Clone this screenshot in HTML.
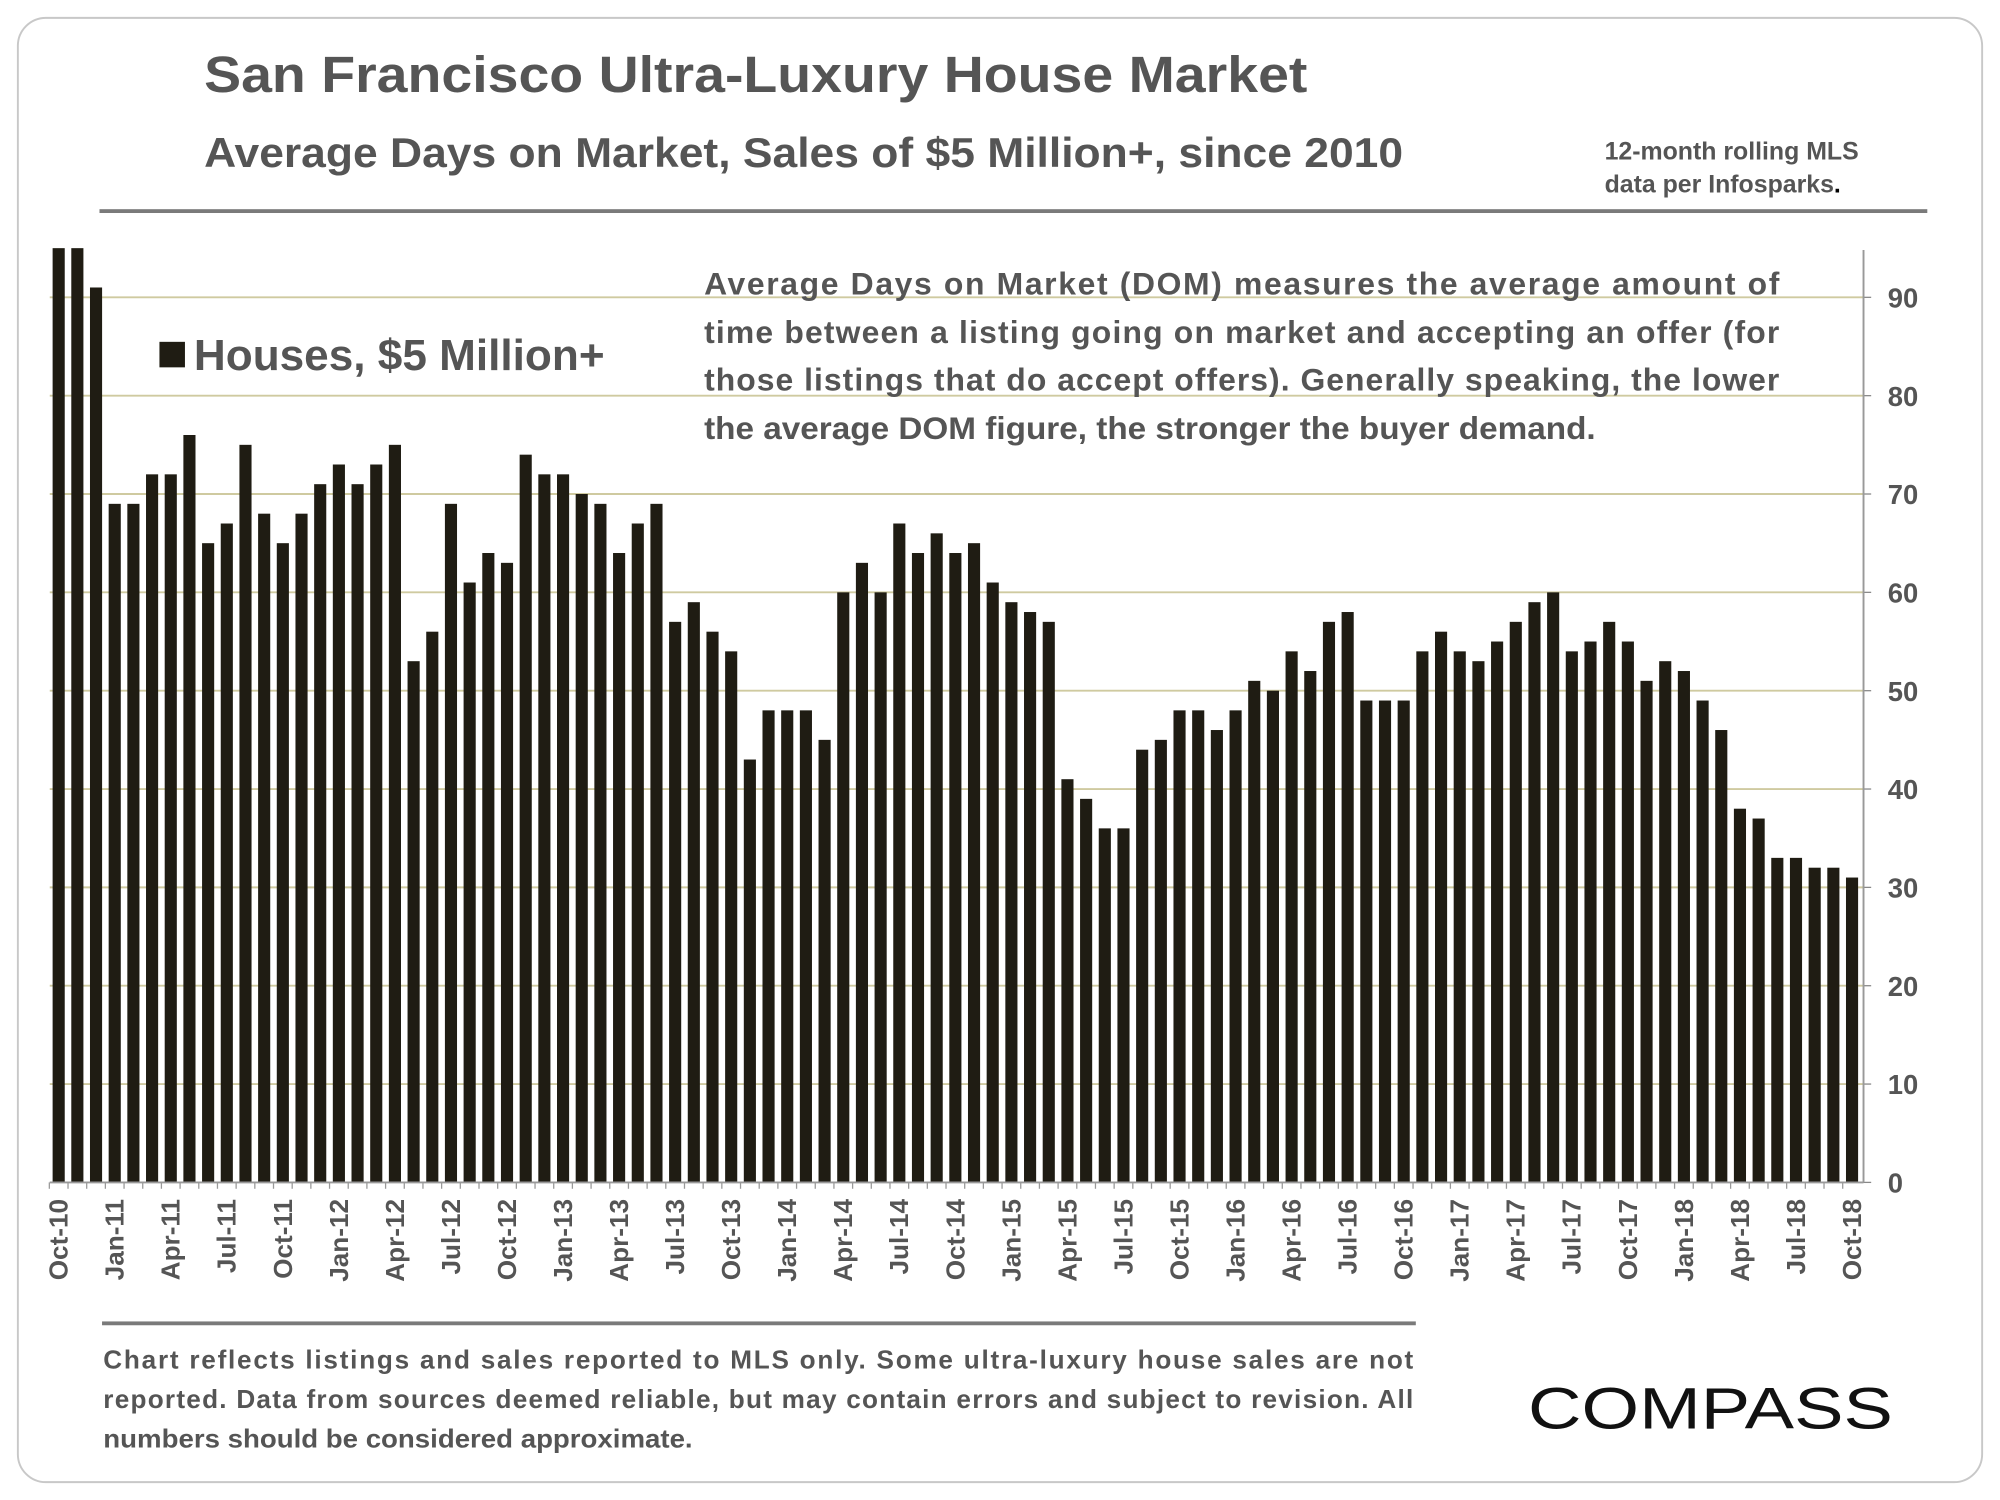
<!DOCTYPE html>
<html><head><meta charset="utf-8">
<style>
html,body{margin:0;padding:0;background:#fff;}
svg{display:block;font-family:"Liberation Sans",Arial,sans-serif;}
</style></head>
<body>
<svg id="chart" width="2000" height="1500" viewBox="0 0 1568 1176" xmlns="http://www.w3.org/2000/svg">
<rect x="14" y="14" width="1540" height="1148" rx="22" fill="#fff" stroke="#c8c8c8" stroke-width="1.5"/>
<text x="160" y="72" font-size="40" font-weight="bold" fill="#555" textLength="865" lengthAdjust="spacingAndGlyphs">San Francisco Ultra-Luxury House Market</text>
<text x="160" y="131" font-size="33" font-weight="bold" fill="#555" textLength="940" lengthAdjust="spacingAndGlyphs">Average Days on Market, Sales of $5 Million+, since 2010</text>
<text font-size="19.5" font-weight="bold" fill="#555"><tspan x="1258" y="125">12-month rolling MLS</tspan><tspan x="1258" y="151">data per Infosparks<tspan fill="#000">.</tspan></tspan></text>
<rect x="78" y="164" width="1433" height="3" fill="#7a7a7a"/>
<g id="grid"></g>
<g id="bars"></g>
<g id="axes"></g>
<rect x="125" y="268" width="20" height="20" fill="#1f1c13"/>
<text x="152" y="290" font-size="34" font-weight="bold" fill="#555" textLength="322" lengthAdjust="spacingAndGlyphs">Houses, $5 Million+</text>
<g font-size="25" font-weight="bold" fill="#555">
<text x="552" y="231" textLength="843" lengthAdjust="spacing">Average Days on Market (DOM) measures the average amount of</text>
<text x="552" y="269" textLength="843" lengthAdjust="spacing">time between a listing going on market and accepting an offer (for</text>
<text x="552" y="306" textLength="843" lengthAdjust="spacing">those listings that do accept offers).  Generally speaking, the lower</text>
<text x="552" y="344" textLength="699" lengthAdjust="spacingAndGlyphs">the average DOM figure, the stronger the buyer demand.</text>
</g>
<rect x="80" y="1036" width="1030" height="3" fill="#7a7a7a"/>
<g font-size="20.5" font-weight="bold" fill="#555">
<text x="81" y="1073" textLength="1027" lengthAdjust="spacing">Chart reflects listings and sales reported to MLS only. Some ultra-luxury house sales are not</text>
<text x="81" y="1104" textLength="1027" lengthAdjust="spacing">reported. Data from sources deemed reliable, but may contain errors and subject to revision. All</text>
<text x="81" y="1135" textLength="462" lengthAdjust="spacingAndGlyphs">numbers should be considered approximate.</text>
</g>
<text x="1198" y="1120" font-size="46" fill="#111" textLength="286" lengthAdjust="spacingAndGlyphs">COMPASS</text>
</svg>
<script>
const months = ["Oct-10","Nov-10","Dec-10","Jan-11","Feb-11","Mar-11","Apr-11","May-11","Jun-11","Jul-11","Aug-11","Sep-11","Oct-11","Nov-11","Dec-11","Jan-12","Feb-12","Mar-12","Apr-12","May-12","Jun-12","Jul-12","Aug-12","Sep-12","Oct-12","Nov-12","Dec-12","Jan-13","Feb-13","Mar-13","Apr-13","May-13","Jun-13","Jul-13","Aug-13","Sep-13","Oct-13","Nov-13","Dec-13","Jan-14","Feb-14","Mar-14","Apr-14","May-14","Jun-14","Jul-14","Aug-14","Sep-14","Oct-14","Nov-14","Dec-14","Jan-15","Feb-15","Mar-15","Apr-15","May-15","Jun-15","Jul-15","Aug-15","Sep-15","Oct-15","Nov-15","Dec-15","Jan-16","Feb-16","Mar-16","Apr-16","May-16","Jun-16","Jul-16","Aug-16","Sep-16","Oct-16","Nov-16","Dec-16","Jan-17","Feb-17","Mar-17","Apr-17","May-17","Jun-17","Jul-17","Aug-17","Sep-17","Oct-17","Nov-17","Dec-17","Jan-18","Feb-18","Mar-18","Apr-18","May-18","Jun-18","Jul-18","Aug-18","Sep-18","Oct-18"];
const domValues = [100,100,91,69,69,72,72,76,65,67,75,68,65,68,71,73,71,73,75,53,56,69,61,64,63,74,72,72,70,69,64,67,69,57,59,56,54,43,48,48,48,45,60,63,60,67,64,66,64,65,61,59,58,57,41,39,36,36,44,45,48,48,46,48,51,50,54,52,57,58,49,49,49,54,56,54,53,55,57,59,60,54,55,57,55,51,53,52,49,46,38,37,33,33,32,32,31];
const yTicks = [0,10,20,30,40,50,60,70,80,90];
const yMaxVisible = 95;

const NS = "http://www.w3.org/2000/svg";
const plotLeft = 39, plotRight = 1461, baseY = 927, unitPx = 7.71;
const firstX = 46, step = (1452 - 46) / 96, barW = 9.5;
function yScale(v){ return baseY - Math.min(v, yMaxVisible) * unitPx; }
function xScale(i){ return firstX + i * step; }
function mk(tag, attrs, parent){ const e = document.createElementNS(NS, tag); for (const k in attrs) e.setAttribute(k, attrs[k]); parent.appendChild(e); return e; }

const grid = document.getElementById('grid');
const bars = document.getElementById('bars');
const axes = document.getElementById('axes');

yTicks.forEach(t => {
  if (t > 0) {
    const g = mk('line', {x1: plotLeft, x2: plotRight, y1: yScale(t), y2: yScale(t), stroke: '#cfcaa0', 'stroke-width': 1.5}, grid);
    
    
  }
  const tk = mk('line', {x1: plotRight, x2: plotRight + 6, y1: yScale(t), y2: yScale(t), stroke: '#888', 'stroke-width': 1}, axes);
  
  
  const lb = mk('text', {x: 1480, y: yScale(t) + 8, 'font-size': 21.5, 'font-weight': 'bold', fill: '#555'}, axes);
  lb.textContent = t;
  
  
});

domValues.forEach((v, i) => {
  const r = mk('rect', {x: xScale(i) - barW / 2, y: yScale(v), width: barW, height: baseY - yScale(v), fill: '#1f1c13'}, bars);
  
  
});

const yAxis = mk('line', {x1: plotRight, x2: plotRight, y1: 196, y2: baseY, stroke: '#999', 'stroke-width': 1.5}, axes);


const xAxis = mk('line', {x1: plotLeft, x2: plotRight, y1: baseY, y2: baseY, stroke: '#999', 'stroke-width': 1.5}, axes);



months.forEach((m, i) => {
  const xt = xScale(i) - step / 2;
  const tk = mk('line', {x1: xt, x2: xt, y1: baseY, y2: baseY + 5, stroke: '#999', 'stroke-width': 1}, axes);
  
  
  if (i % 3 === 0) {
    const x = xScale(i) + 7;
    const lb = mk('text', {x: x, y: 940, 'font-size': 20.5, 'font-weight': 'bold', fill: '#555', 'text-anchor': 'end', transform: 'rotate(-90 ' + x + ' 940)'}, axes);
    lb.textContent = m;
    
    
  }
});
</script>
</body></html>
